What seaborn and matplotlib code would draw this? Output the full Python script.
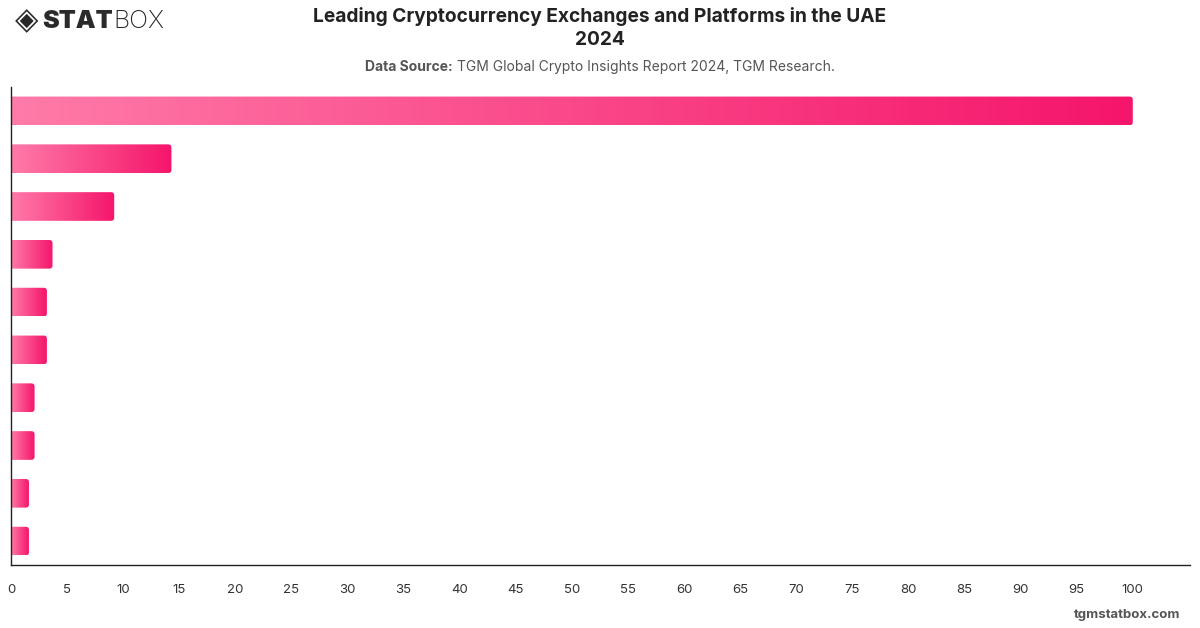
import numpy as np
import pandas as pd
import seaborn as sns
import matplotlib.pyplot as plt
from matplotlib.colors import LinearSegmentedColormap
from matplotlib.patches import FancyBboxPatch

# chart values (category names are not shown in the reference)
platforms = ['Platform 1', 'Platform 2', 'Platform 3', 'Platform 4', 'Platform 5',
             'Platform 6', 'Platform 7', 'Platform 8', 'Platform 9', 'Platform 10']
scores = [100, 14.3, 9.2, 3.7, 3.2, 3.2, 2.1, 2.1, 1.6, 1.6]
x_ticks = list(range(0, 101, 5))

df = pd.DataFrame({'Platform': platforms, 'Score': scores})

sns.set_theme(style='white')
plt.rcParams['font.family'] = ['Inter', 'DejaVu Sans']

fig = plt.figure(figsize=(12, 6.28), dpi=100)
ax = fig.add_axes([11 / 1200, 1 - 565 / 628, (1190 - 11) / 1200, (565 - 87) / 628])

sns.barplot(data=df, x='Score', y='Platform', orient='h', width=0.6,
            color='#f5166b', ax=ax)

xlim = (0, 105.1)
ylim = ax.get_ylim()

# gradient fill per bar, light pink on the left to deep pink on the right
cmap = LinearSegmentedColormap.from_list('pinkgrad', ['#ff7ba8', '#f5156b'])
grad = np.linspace(0, 1, 256).reshape(1, -1)
for p in ax.patches:
    x0, y0, w, h = p.get_x(), p.get_y(), p.get_width(), p.get_height()
    p.set_visible(False)
    clip = FancyBboxPatch((x0 - 1, y0), w + 1, h,
                          boxstyle='round,pad=0,rounding_size=0.3',
                          mutation_aspect=0.22, transform=ax.transData,
                          facecolor='none', edgecolor='none')
    ax.add_patch(clip)
    im = ax.imshow(grad, cmap=cmap, aspect='auto',
                   extent=(x0, x0 + w, y0 + h, y0), zorder=2)
    im.set_clip_path(clip)

ax.set_xlim(*xlim)
ax.set_ylim(*ylim)

ax.set_xticks(x_ticks)
ax.set_xticklabels([str(t) for t in x_ticks])
ax.tick_params(axis='x', length=0, pad=14, labelsize=9.5, labelcolor='#333333')
ax.set_yticks([])
ax.set_xlabel('')
ax.set_ylabel('')
for s in ['top', 'right']:
    ax.spines[s].set_visible(False)
for s in ['left', 'bottom']:
    ax.spines[s].set_color('#222222')
    ax.spines[s].set_linewidth(1)

# titles
fig.text(0.5, 1 - 17 / 628, 'Leading Cryptocurrency Exchanges and Platforms in the UAE',
         ha='center', va='center', fontsize=13.8, fontweight='bold', color='#222222')
fig.text(0.5, 1 - 40 / 628, '2024', ha='center', va='center',
         fontsize=13.8, fontweight='bold', color='#222222')

# subtitle: bold label followed by plain source text, centred as one line
sub_a = 'Data Source:'
sub_b = 'TGM Global Crypto Insights Report 2024, TGM Research.'
renderer = fig.canvas.get_renderer()
ta = fig.text(0, 1 - 67 / 628, sub_a, ha='left', va='center',
              fontsize=10, fontweight='bold', color='#555555')
tb = fig.text(0, 1 - 67 / 628, sub_b, ha='left', va='center',
              fontsize=10, color='#555555')
wa = ta.get_window_extent(renderer).width
wb = tb.get_window_extent(renderer).width
gap = 4
start = 600 - (wa + gap + wb) / 2
ta.set_x(start / 1200)
tb.set_x((start + wa + gap) / 1200)

# logo
fig.text(15 / 1200, 1 - 21 / 628, '◈', ha='left', va='center',
         fontsize=22, color='#2a2a2a', family=['DejaVu Sans'])
fig.text(42 / 1200, 1 - 21 / 628, 'STAT', ha='left', va='center',
         fontsize=18, fontweight='black', color='#2a2a2a')
fig.text(113 / 1200, 1 - 21 / 628, 'BOX', ha='left', va='center',
         fontsize=18, fontweight='light', color='#2a2a2a')

# footer
fig.text(1180 / 1200, 1 - 615 / 628, 'tgmstatbox.com', ha='right', va='center',
         fontsize=9.5, fontweight='bold', color='#555555')

fig.savefig('out.png', dpi=100)
